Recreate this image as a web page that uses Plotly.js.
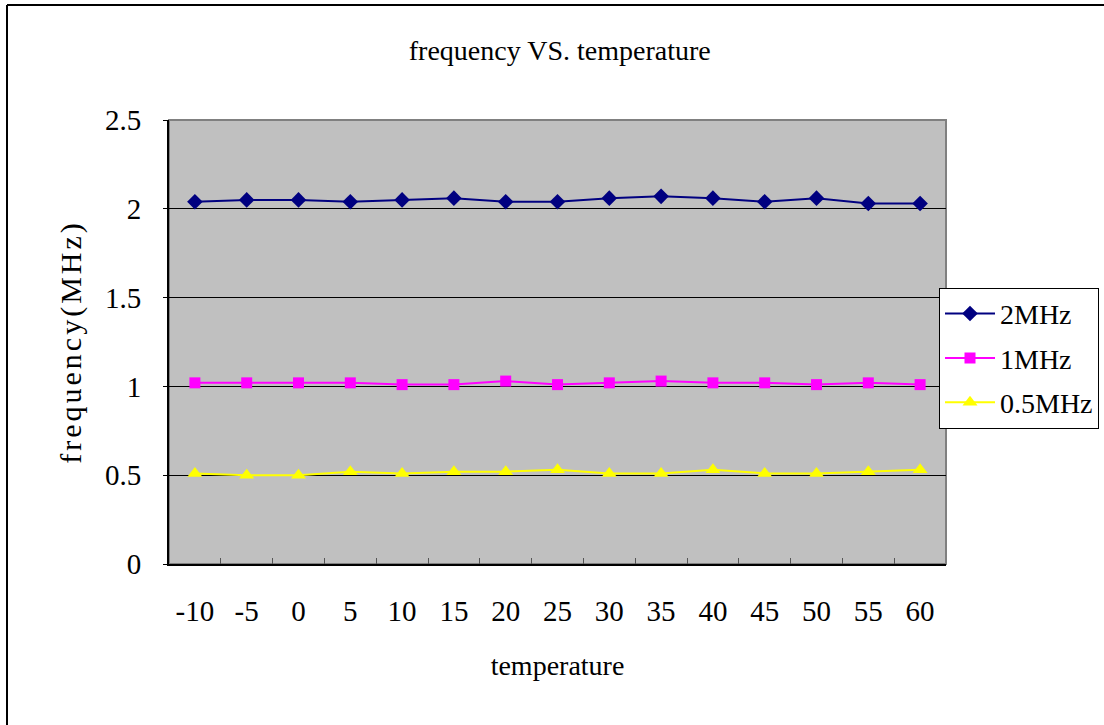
<!DOCTYPE html>
<html><head><meta charset="utf-8">
<script src="https://cdn.plot.ly/plotly-3.0.1.min.js"></script>
<style>html,body{margin:0;padding:0;background:#fff;overflow:hidden;}#chart{width:1104px;height:725px;}.ytitle{letter-spacing:3px;}</style>
</head><body>
<div id="chart"></div>
<script>
const temperatures = ['-10','-5','0','5','10','15','20','25','30','35','40','45','50','55','60'];
const f2MHz = [2.04,2.05,2.05,2.04,2.05,2.06,2.04,2.04,2.06,2.07,2.06,2.04,2.06,2.03,2.03];
const f1MHz = [1.02,1.02,1.02,1.02,1.01,1.01,1.03,1.01,1.02,1.03,1.02,1.02,1.01,1.02,1.01];
const f05MHz = [0.51,0.50,0.50,0.52,0.51,0.52,0.52,0.53,0.51,0.51,0.53,0.51,0.51,0.52,0.53];
const yTicks = [0,0.5,1,1.5,2,2.5];
const yTickText = ['0','0.5','1','1.5','2','2.5'];

const font = 'Liberation Serif, Times New Roman, serif';
const traces = [
  {x: temperatures, y: f2MHz, name: '2MHz', legendgroup: 'a', mode: 'lines+markers', type: 'scatter',
   line: {color: '#000080', width: 2}, marker: {symbol: 'diamond', size: 12, color: '#000080'}},
  {x: temperatures, y: f1MHz, name: '1MHz', legendgroup: 'b', mode: 'lines+markers', type: 'scatter',
   line: {color: '#ff00ff', width: 2}, marker: {symbol: 'square', size: 11, color: '#ff00ff'}},
  {x: temperatures, y: f05MHz, name: '0.5MHz', legendgroup: 'c', mode: 'lines+markers', type: 'scatter',
   line: {color: '#ffff00', width: 2}, marker: {symbol: 'triangle-up', size: 13, color: '#ffff00'}}
];
// outer chart frame (left and top edges), in paper coordinates of the plot area
const fx = (7 - 169) / 777, fy = (564 - 5) / 444;
const layout = {
  width: 1104, height: 725,
  margin: {l: 169, r: 158, t: 120, b: 161, autoexpand: false},
  paper_bgcolor: '#ffffff', plot_bgcolor: '#c0c0c0',
  font: {family: font, color: '#000', size: 28},
  title: {text: 'frequency VS. temperature', x: 0.507, xanchor: 'center', y: 0.931, yanchor: 'middle', font: {family: font, size: 28, color: '#000'}},
  showlegend: true,
  legend: {x: 0.991, xanchor: 'left', y: 0.622, yanchor: 'top', bgcolor: '#fff', bordercolor: '#000', borderwidth: 1,
           font: {family: font, size: 28, color: '#000'}, traceorder: 'grouped', tracegroupgap: 5, itemwidth: 50},
  xaxis: {type: 'category', range: [-0.5, 14.5], tickson: 'boundaries', ticks: 'inside', ticklen: 6, tickcolor: '#555', tickwidth: 1,
          showline: true, linecolor: '#000', linewidth: 2, showgrid: false, zeroline: false,
          ticklabelstandoff: 20, tickfont: {family: font, size: 29, color: '#000'},
          title: {text: 'temperature', font: {family: font, size: 28, color: '#000'}, standoff: 30}},
  yaxis: {range: [0, 2.5], tickvals: yTicks, ticktext: yTickText, ticks: 'outside', ticklen: 4, tickcolor: '#000',
          showline: true, linecolor: '#000', linewidth: 2, showgrid: true, gridcolor: '#000', gridwidth: 1, zeroline: false,
          ticklabelstandoff: 16, tickfont: {family: font, size: 29, color: '#000'},
          title: {text: 'frequency(MHz)', font: {family: font, size: 30, color: '#000'}, standoff: 14}},
  shapes: [
    {type: 'rect', xref: 'paper', yref: 'paper', x0: 0, x1: 1, y0: 0, y1: 1, line: {color: '#808080', width: 2}, layer: 'below'},
    {type: 'line', xref: 'paper', yref: 'paper', x0: fx, x1: fx, y0: -1, y1: fy, line: {color: '#000', width: 2}},
    {type: 'line', xref: 'paper', yref: 'paper', x0: fx, x1: 2, y0: fy, y1: fy, line: {color: '#000', width: 2}}
  ]
};
Plotly.newPlot('chart', traces, layout, {displayModeBar: false, staticPlot: true});
</script>
</body></html>
